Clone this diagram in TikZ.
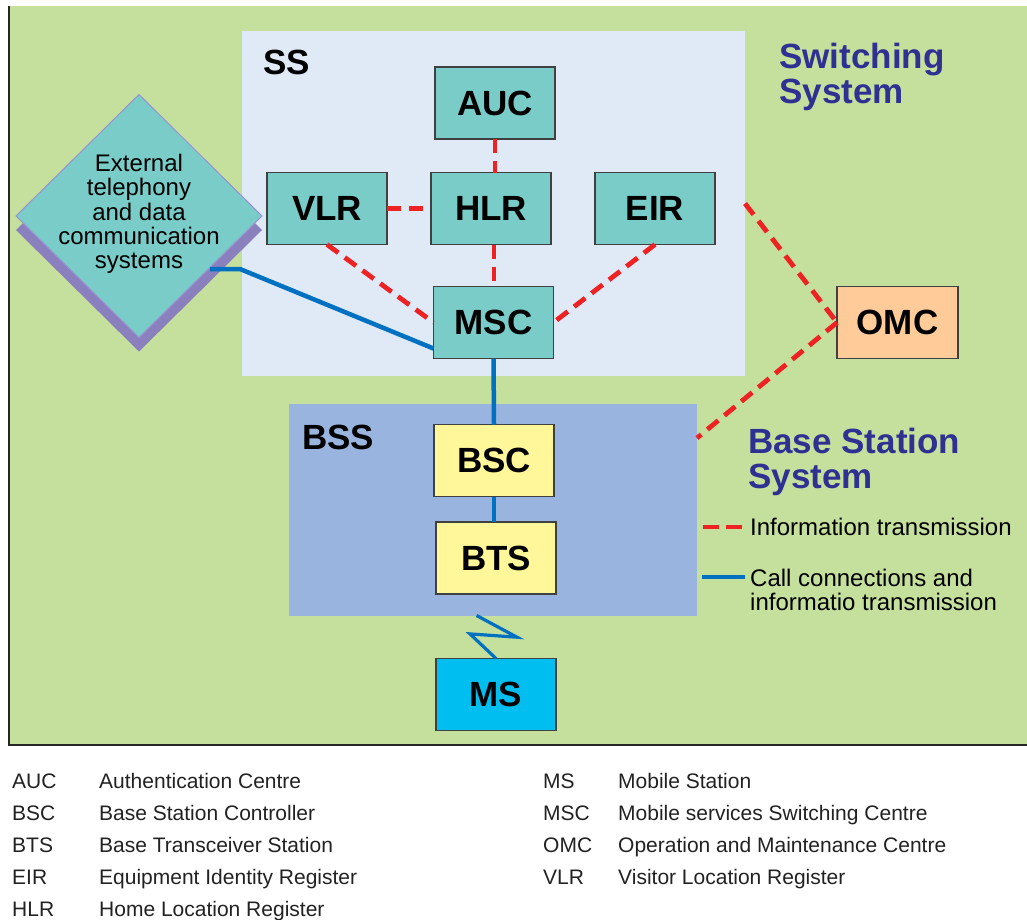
\documentclass[tikz,border=0pt]{standalone}
\usepackage{fontspec}
\setmainfont{Liberation Sans}
\usetikzlibrary{shapes.geometric,calc}

\definecolor{panelgreen}{HTML}{C5DF9D}
\definecolor{ssfill}{HTML}{DFEAF6}
\definecolor{bssfill}{HTML}{99B5DF}
\definecolor{tealbox}{HTML}{7ACCC8}
\definecolor{yellowbox}{HTML}{FFF799}
\definecolor{peachbox}{HTML}{FFCC99}
\definecolor{cyanbox}{HTML}{00BFF0}
\definecolor{shadowpurple}{HTML}{8A80BE}
\definecolor{diamondedge}{HTML}{9A92D2}
\definecolor{callblue}{HTML}{0070C0}
\definecolor{infored}{HTML}{EE2222}
\definecolor{titleblue}{HTML}{2E3192}
\definecolor{legendgray}{HTML}{222222}

\tikzset{
  unit/.style={draw=black!75, line width=1.2, minimum width=120, minimum height=72,
    inner sep=0, outer sep=0, font=\fontsize{35}{36}\selectfont\bfseries},
  ssunit/.style={unit, fill=tealbox},
  bssunit/.style={unit, fill=yellowbox},
  region/.style={inner sep=0, outer sep=0},
  infoline/.style={draw=infored, line width=4.8, dash pattern=on 14 off 8},
  callline/.style={draw=callblue, line width=4.5},
  areatitle/.style={inner sep=0, font=\fontsize{35}{36}\selectfont\bfseries},
  systitle/.style={inner sep=0, align=left, text=titleblue,
    font=\fontsize{35}{35}\selectfont\bfseries},
  keytext/.style={inner sep=0, align=left, font=\fontsize{24}{24}\selectfont},
  abbr/.style={inner sep=0, anchor=base west, text=legendgray, font=\fontsize{21}{21}\selectfont},
}

\begin{document}
\begin{tikzpicture}[x=1pt, y=-1pt]
\useasboundingbox (0,0) rectangle (1027,919);
\fill[white] (0,0) rectangle (1027,919);

% green panel with its frame on the left and bottom
\fill[panelgreen] (9,6) rectangle (1027,745);
\draw[line width=2, black!85] (9,6) -- (9,745) -- (1027,745);

% switching system and base station system areas
\node[region, fill=ssfill, minimum width=503, minimum height=345] (ssarea) at (493.5,203.5) {};
\node[region, fill=bssfill, minimum width=408, minimum height=212] (bssarea) at (493,510) {};
\node[areatitle, anchor=west] (sslabel) at (263,62) {SS};
\node[areatitle, anchor=west] (bsslabel) at (302,437) {BSS};

% external networks
\node[diamond, fill=shadowpurple, minimum width=246, minimum height=243, inner sep=0, outer sep=0]
  (extshadow) at (139,230) {};
\node[diamond, fill=tealbox, draw=diamondedge, line width=1, minimum width=246, minimum height=243,
  inner sep=0, outer sep=0] (ext) at (139,216) {};
\node[inner sep=0, align=center, font=\fontsize{24}{24.3}\selectfont] (exttext) at (139,214)
  {External\\telephony\\and data\\communication\\systems};

% switching system units
\node[ssunit] (AUC) at (495,103) {AUC};
\node[ssunit] (VLR) at (327,208.5) {VLR};
\node[ssunit] (HLR) at (491,208.5) {HLR};
\node[ssunit] (EIR) at (655,208.5) {EIR};
\node[ssunit] (MSC) at (493.5,322.5) {MSC};

% base station system units
\node[bssunit] (BSC) at (494,460.5) {BSC};
\node[bssunit] (BTS) at (496,558) {BTS};

% mobile station and operation centre
\node[unit, fill=cyanbox] (MS) at (496,694.5) {MS};
\node[unit, fill=peachbox, minimum width=121] (OMC) at (897.5,322.5) {OMC};

% information transmission links
\draw[infoline] (AUC.south) -- (AUC.south |- HLR.north);
\draw[infoline] (VLR.east) -- (HLR.west);
\draw[infoline] ([xshift=3]HLR.south) -- ([xshift=3]HLR.south |- MSC.north);
\draw[infoline] (VLR.south) -- (MSC.west);
\draw[infoline] (EIR.south) -- (MSC.east);
\coordinate (ssport) at (ssarea.east);
\coordinate (bssport) at ($(bssarea.north east)+(0,34)$);
\draw[infoline] (ssport) -- (OMC.west);
\draw[infoline] (OMC.west) -- (bssport);

% call connection links
\coordinate (extport) at (210,269);
\draw[callline] (extport) -- ++(30,0) -- ($(MSC.south west)+(0,-10)$);
\draw[callline] (MSC.south) -- (BSC.north);
\draw[callline] (BSC.south) -- (BSC.south |- BTS.north);

% radio link to the mobile station
\draw[draw=callblue, line width=3.2, line join=miter]
  (MS.north) -- ++(-26,-24.6) -- ++(47,3.3) -- ++(-40.4,-21.7);

% system titles
\node[systitle, anchor=north west] (swtitle) at (779,43) {Switching\\System};
\node[systitle, anchor=north west] (bsstitle) at (748,428) {Base Station\\System};

% line style key
\node[keytext, anchor=west] (infokey) at (750,527) {Information transmission};
\node[keytext, anchor=west] (callkey) at (750,590) {Call connections and\\informatio transmission};
\coordinate (infosample) at (703,527);
\coordinate (callsample) at (702,577);
\draw[infoline, dash pattern=on 16 off 7] (infosample) -- ++(42,0);
\draw[callline] (callsample) -- ++(43,0);

% abbreviations
\node[abbr] (kAUC) at (12,788.5) {AUC};
\node[abbr] (kBSC) at (12,820.5) {BSC};
\node[abbr] (kBTS) at (12,852.5) {BTS};
\node[abbr] (kEIR) at (12,884.5) {EIR};
\node[abbr] (kHLR) at (12,916.5) {HLR};
\node[abbr] (dAUC) at (99,788.5) {Authentication Centre};
\node[abbr] (dBSC) at (99,820.5) {Base Station Controller};
\node[abbr] (dBTS) at (99,852.5) {Base Transceiver Station};
\node[abbr] (dEIR) at (99,884.5) {Equipment Identity Register};
\node[abbr] (dHLR) at (99,916.5) {Home Location Register};
\node[abbr] (kMS) at (543,788.5) {MS};
\node[abbr] (kMSC) at (543,820.5) {MSC};
\node[abbr] (kOMC) at (543,852.5) {OMC};
\node[abbr] (kVLR) at (543,884.5) {VLR};
\node[abbr] (dMS) at (618,788.5) {Mobile Station};
\node[abbr] (dMSC) at (618,820.5) {Mobile services Switching Centre};
\node[abbr] (dOMC) at (618,852.5) {Operation and Maintenance Centre};
\node[abbr] (dVLR) at (618,884.5) {Visitor Location Register};
\end{tikzpicture}
\end{document}
